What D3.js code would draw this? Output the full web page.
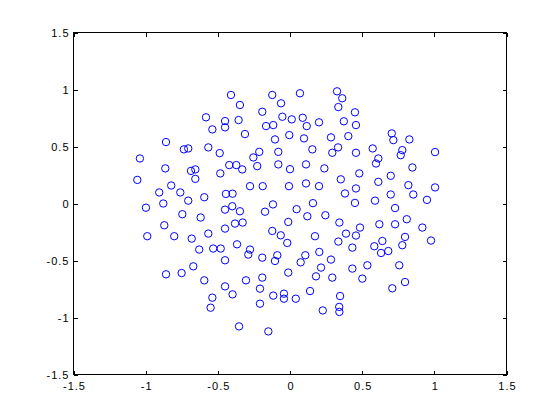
<!DOCTYPE html>
<html><head><meta charset="utf-8">
<script src="https://cdn.jsdelivr.net/npm/d3@7"></script>
<style>html,body{margin:0;padding:0;background:#fff;}svg{display:block;}</style>
</head><body>
<script>
const xs = [-0.409,-0.347,-0.582,-0.450,-0.450,-0.538,-0.356,-0.859,-0.735,-0.705,-0.566,-0.487,-1.040,-0.864,-0.686,-0.656,-0.656,-0.483,-0.421,-0.372,-1.058,-0.823,-0.906,-0.760,-0.705,-0.594,-0.444,-0.398,-0.878,-0.998,-0.400,-0.450,-0.347,
-0.123,0.069,0.326,0.362,-0.062,-0.192,0.335,-0.166,-0.116,-0.053,0.012,0.088,0.116,0.201,0.373,-0.312,-0.104,-0.005,0.097,0.284,-0.081,-0.213,-0.254,0.155,0.293,0.333,-0.331,-0.227,-0.081,0.000,0.111,0.238,0.352,-0.277,-0.189,-0.007,0.111,0.201,0.381,-0.118,0.159,-0.173,0.046,
0.450,0.457,0.404,0.705,0.716,0.827,0.457,0.573,0.778,0.767,1.005,0.612,0.596,0.848,0.480,0.612,0.698,0.457,0.820,1.005,0.854,0.698,0.589,0.450,0.949,0.728,
0.342,0.485,0.619,0.728,0.809,0.917,0.388,0.457,0.335,0.432,0.584,0.640,0.631,0.681,0.797,0.778,0.977,0.432,0.536,0.757,0.501,0.797,0.709,0.347,0.341,0.342,
0.120,0.245,-0.381,-0.328,-0.012,-0.123,-0.064,-0.019,0.173,-0.367,-0.277,-0.289,-0.192,-0.088,-0.104,0.106,0.074,0.203,0.284,0.215,-0.012,0.180,0.293,-0.305,-0.192,-0.208,-0.398,-0.116,-0.042,-0.042,0.040,0.139,-0.208,0.227,-0.353,-0.150,
-0.746,-0.619,-0.871,-0.450,-0.989,-0.802,-0.681,-0.566,-0.629,-0.532,-0.480,-0.450,-0.670,-0.859,-0.751,-0.594,-0.450,-0.538,-0.550];
const ys = [0.952,0.864,0.756,0.723,0.668,0.650,0.732,0.539,0.475,0.483,0.492,0.442,0.395,0.308,0.286,0.299,0.216,0.264,0.337,0.337,0.207,0.158,0.097,0.097,0.025,0.055,0.084,0.086,0.000,-0.037,-0.024,-0.054,-0.068,
0.952,0.967,0.984,0.923,0.879,0.805,0.846,0.679,0.688,0.761,0.738,0.752,0.679,0.712,0.721,0.609,0.562,0.600,0.571,0.580,0.453,0.453,0.404,0.475,0.445,0.492,0.299,0.328,0.343,0.301,0.343,0.308,0.212,0.152,0.152,0.152,0.176,0.152,0.088,-0.008,0.003,-0.072,-0.050,
0.800,0.688,0.591,0.615,0.556,0.562,0.445,0.483,0.468,0.424,0.451,0.395,0.351,0.316,0.264,0.190,0.243,0.132,0.161,0.141,0.079,0.079,0.025,0.005,0.032,-0.040,
-0.167,-0.211,-0.182,-0.182,-0.138,-0.211,-0.264,-0.281,-0.334,-0.387,-0.375,-0.329,-0.434,-0.417,-0.293,-0.366,-0.325,-0.571,-0.542,-0.542,-0.659,-0.689,-0.744,-0.812,-0.907,-0.951,
-0.112,-0.103,-0.176,-0.167,-0.162,-0.241,-0.279,-0.346,-0.287,-0.358,-0.404,-0.448,-0.475,-0.454,-0.504,-0.454,-0.516,-0.425,-0.492,-0.562,-0.606,-0.639,-0.650,-0.674,-0.650,-0.747,-0.797,-0.808,-0.791,-0.835,-0.835,-0.768,-0.879,-0.938,-1.078,-1.122,
-0.094,-0.123,-0.191,-0.220,-0.287,-0.287,-0.308,-0.264,-0.404,-0.395,-0.395,-0.498,-0.551,-0.621,-0.610,-0.674,-0.727,-0.826,-0.914];
const xTicks = [-1.5,-1,-0.5,0,0.5,1,1.5];
const yTicks = [-1.5,-1,-0.5,0,0.5,1,1.5];
const xTickLabels = ["-1.5","-1","-0.5","0","0.5","1","1.5"];
const yTickLabels = ["-1.5","-1","-0.5","0","0.5","1","1.5"];

const W = 560, H = 420;
const L = 73.5, T = 32.5, R = 506.5, B = 374.5;
const svg = d3.select("body").append("svg").attr("width", W).attr("height", H);
const x = d3.scaleLinear().domain([-1.5, 1.5]).range([L, R]);
const y = d3.scaleLinear().domain([-1.5, 1.5]).range([B, T]);
const tl = 4;
const font = "Liberation Sans, Arial, Helvetica, sans-serif";

svg.append("rect").attr("x", L).attr("y", T).attr("width", R - L).attr("height", B - T)
  .attr("fill", "none").attr("stroke", "#000").attr("stroke-width", 1);

function styleAxis(g) {
  g.select(".domain").remove();
  g.selectAll(".tick line").attr("stroke", "#000").attr("shape-rendering", "crispEdges");
  g.selectAll(".tick text").attr("fill", "#000").style("font-family", font)
    .style("font-size", "11px").style("letter-spacing", "1px");
}
const fmtX = (d, i) => xTickLabels[i];
const fmtY = (d, i) => yTickLabels[i];
svg.append("g").attr("transform", `translate(0,${B})`)
  .call(d3.axisBottom(x).tickValues(xTicks).tickFormat(fmtX).tickSizeInner(-tl).tickSizeOuter(0).tickPadding(8))
  .call(styleAxis)
  .call(g => g.selectAll(".tick text").attr("dx", "0.5"));
svg.append("g").attr("transform", `translate(0,${T})`)
  .call(d3.axisTop(x).tickValues(xTicks).tickFormat("").tickSizeInner(-tl).tickSizeOuter(0))
  .call(styleAxis);
svg.append("g").attr("transform", `translate(${L},0)`)
  .call(d3.axisLeft(y).tickValues(yTicks).tickFormat(fmtY).tickSizeInner(-tl).tickSizeOuter(0).tickPadding(4))
  .call(styleAxis);
svg.append("g").attr("transform", `translate(${R},0)`)
  .call(d3.axisRight(y).tickValues(yTicks).tickFormat("").tickSizeInner(-tl).tickSizeOuter(0))
  .call(styleAxis);

svg.append("g").selectAll("circle").data(xs.map((v, i) => [v, ys[i]])).join("circle")
  .attr("cx", d => x(d[0])).attr("cy", d => y(d[1])).attr("r", 3.7)
  .attr("fill", "none").attr("stroke", "#0000ff").attr("stroke-width", 1);
</script>
</body></html>
